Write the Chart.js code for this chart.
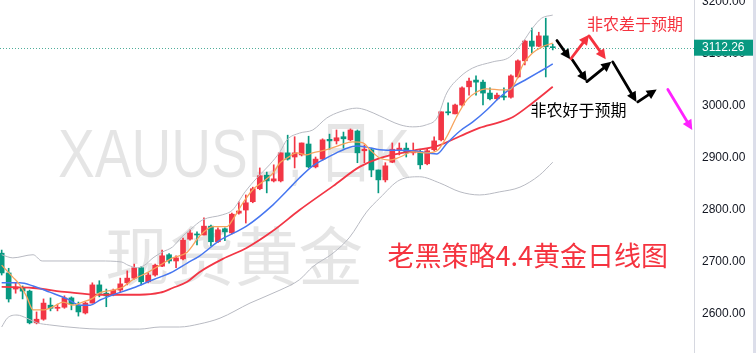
<!DOCTYPE html>
<html>
<head>
<meta charset="utf-8">
<script src="https://cdn.jsdelivr.net/npm/chart.js@4.4.0/dist/chart.umd.min.js"></script>
<style>
html, body { margin: 0; padding: 0; background: #fff; }
</style>
</head>
<body>
<canvas id="c" width="756" height="353"></canvas>
<script>
// XAUUSD daily candles, oldest first
const opens = [2717,2679,2648,2650,2644,2583,2590,2617,2611,2613,
  2631,2617,2602,2621,2656,2640,2637,2646,2660,2669,
  2689,2662,2675,2692,2714,2702,2706,2744,2754,2752,
  2769,2739,2764,2756,2794,2800,2816,2841,2867,2856,
  2856,2910,2902,2906,2927,2883,2898,2936,2933,2941,
  2935,2952,2914,2916,2877,2858,2892,2916,2919,2910,
  2912,2889,2916,2935,2989,2985,3002,3037,3050,3046,
  3025,3014,3019,3017,3056,3087,3125,3115,3135,3114];
const highs = [2723,2688,2660,2654,2646,2604,2629,2631,2619,2635,
  2633,2623,2623,2660,2664,2648,2648,2669,2683,2696,
  2691,2679,2696,2723,2716,2712,2746,2762,2758,2785,
  2771,2766,2766,2794,2816,2829,2844,2881,2873,2887,
  2910,2944,2941,2929,2942,2902,2937,2946,2954,2950,
  2956,2954,2925,2919,2877,2891,2929,2929,2929,2929,
  2917,2917,2941,2989,3006,3004,3037,3054,3058,3050,
  3035,3025,3035,3060,3089,3127,3150,3142,3169,3119];
const lows = [2675,2623,2640,2629,2581,2581,2588,2606,2606,2611,
  2608,2596,2600,2621,2633,2614,2635,2642,2656,2667,
  2656,2660,2673,2691,2698,2689,2704,2742,2733,2752,
  2731,2737,2741,2754,2792,2775,2814,2839,2833,2854,
  2854,2896,2881,2904,2881,2881,2896,2917,2927,2919,
  2933,2891,2891,2864,2833,2854,2891,2906,2902,2906,
  2879,2887,2914,2933,2983,2985,3000,3021,3021,3002,
  3012,3012,3012,3015,3054,3079,3102,3114,3056,3108];
const closes = [2679,2629,2652,2644,2583,2590,2621,2611,2613,2631,
  2619,2604,2621,2656,2640,2635,2646,2658,2669,2689,
  2662,2675,2694,2712,2702,2708,2742,2756,2752,2769,
  2739,2762,2758,2792,2798,2814,2841,2866,2856,2860,
  2910,2898,2910,2929,2883,2898,2935,2933,2939,2937,
  2954,2910,2917,2877,2858,2885,2917,2919,2910,2914,
  2887,2914,2933,2989,2987,3002,3035,3048,3046,3025,
  3014,3021,3017,3058,3087,3125,3115,3135,3114,3112.26];
const lastPrice = 3112.26;

// indicator lines (bar index, price)
const bbUpperAt = [0,1.6,4.5,5.8,14.1,17.2,18.1,19.5,20.5,21.7,23.0,24.5,25.8,27.0,28.8,31.7,33.1,34.9,36.6,38.4,39.9,40.9,42.7,44.6,46.6,48.5,50.9,52.3,54.2,57.1,58.9,60.9,62.4,63.8,65.7,67.5,70.4,72.8,74.7,76.1,77.4,79.0];
const bbUpper = [2714,2708,2714,2702,2702,2700,2694,2689,2694,2708,2719,2729,2748,2762,2781,2791,2800,2835,2862,2887,2912,2935,2948,2954,2977,2989,2996,2992,2981,2964,2960,2964,2977,3025,3056,3073,3085,3094,3123,3150,3169,3175];
const bbLowerAt = [0,0.8,2.2,3.6,5.1,6.9,11.2,14.1,19.8,22.7,25.5,28.4,31.3,35.6,39.9,42.7,44.6,47.5,49.9,52.3,54.2,57.1,59.9,62.8,65.7,68.5,71.4,74.3,77.1,79.0];
const bbLower = [2575,2592,2598,2592,2583,2579,2573,2571,2571,2575,2575,2581,2592,2621,2646,2666,2691,2717,2748,2796,2823,2858,2864,2852,2835,2829,2835,2844,2867,2892];
const ma5At = [0,1.6,2.6,3.6,4.5,5.9,7.4,8.8,10.2,11.6,12.9,14.1,16.0,17.4,18.8,20.8,22.7,24.5,26.6,28.4,30.3,32.3,33.1,34.6,36.0,37.4,38.9,39.9,40.9,42.3,43.7,44.6,46.6,48.5,50.3,51.8,52.8,54.2,55.6,57.1,58.9,60.9,62.4,63.8,65.2,66.7,68.1,69.5,71.8,72.8,73.8,74.7,76.1,77.5,79.0];
const ma5 = [2694,2671,2656,2633,2608,2608,2614,2623,2617,2623,2629,2641,2646,2652,2666,2679,2694,2708,2719,2750,2768,2768,2781,2814,2839,2854,2871,2891,2900,2910,2906,2910,2916,2925,2931,2929,2916,2900,2896,2902,2912,2910,2914,2941,2979,3012,3027,3033,3031,3031,3050,3079,3102,3114,3121];
const ma10At = [0,2.6,4.5,6.9,9.4,11.2,12.7,14.1,16.0,18.8,21.7,24.5,26.6,28.4,31.3,35.1,38.9,40.9,42.7,44.6,46.0,48.0,49.5,50.9,52.3,54.2,58.9,62.4,63.8,65.7,67.5,69.5,71.4,73.3,75.3,77.1,79.0];
const ma10 = [2660,2660,2654,2642,2629,2617,2617,2627,2637,2650,2666,2681,2698,2712,2742,2769,2810,2837,2862,2885,2896,2910,2919,2923,2921,2916,2914,2908,2928,2952,2969,2992,3017,3037,3052,3066,3081];
const ma30At = [0,4.5,9.4,14.1,19.8,22.7,24.5,26.6,28.4,31.7,35.1,38.9,42.7,47.5,51.3,54.2,58.9,62.4,65.7,68.5,71.4,73.3,76.1,79.0];
const ma30 = [2652,2650,2642,2637,2637,2641,2650,2662,2681,2706,2727,2760,2800,2846,2883,2900,2914,2923,2942,2958,2969,2979,3006,3037];

const yTicks = [2600, 2700, 2800, 2900, 3000, 3100, 3200];

// hand drawn scenario arrows: [fromIndex, fromPrice, toIndex, toPrice]
const blackArrows = [[79.6,3126,81.5,3090],[81.8,3089,83.9,3047],[83.9,3047,87.4,3085],[87.6,3085,91.0,3008],[91.2,3008,93.9,3032]];
const redArrows = [[81.6,3091,84.2,3137],[84.2,3135,86.6,3090]];
const pinkArrows = [[95.5,3032,99.0,2954]];

const UP = '#f23645', DOWN = '#089981';
const colors = closes.map((c, i) => c >= opens[i] ? UP : DOWN);
const pts = (xs, ys) => xs.map((x, i) => ({x: x, y: ys[i]}));

function lineSet(label, xs, ys, color, w) {
    return {type: 'line', label: label, data: pts(xs, ys), borderColor: color, borderWidth: w,
        pointRadius: 0, fill: false, cubicInterpolationMode: 'monotone'};
}

function fitText(ctx, txt, left, base, width, font) {
    ctx.save();
    ctx.font = font;
    const w = ctx.measureText(txt).width;
    ctx.translate(left, base);
    ctx.scale(width / w, 1);
    ctx.fillText(txt, 0, 0);
    ctx.restore();
}

function arrow(ctx, x1, y1, x2, y2, color) {
    const ang = Math.atan2(y2 - y1, x2 - x1);
    const hl = 10, hw = 5;
    const bx = x2 - hl * Math.cos(ang), by = y2 - hl * Math.sin(ang);
    ctx.strokeStyle = color;
    ctx.fillStyle = color;
    ctx.lineWidth = 2.8;
    ctx.lineCap = 'round';
    ctx.beginPath();
    ctx.moveTo(x1, y1);
    ctx.lineTo(bx, by);
    ctx.stroke();
    ctx.beginPath();
    ctx.moveTo(x2, y2);
    ctx.lineTo(bx + hw * Math.sin(ang), by - hw * Math.cos(ang));
    ctx.lineTo(bx - hw * Math.sin(ang), by + hw * Math.cos(ang));
    ctx.closePath();
    ctx.fill();
}

const overlay = {
    id: 'overlay',
    beforeDatasetsDraw(chart) {
        const ctx = chart.ctx, a = chart.chartArea, y = chart.scales.y;
        ctx.save();
        ctx.fillStyle = 'rgba(0,0,0,0.1)';
        ctx.textBaseline = 'alphabetic';
        fitText(ctx, 'XAUUSD, 日K', 58, 177, 352, '68px "Liberation Sans", "Noto Sans CJK SC"');
        ctx.textBaseline = 'middle';
        fitText(ctx, '现货黄金', 105, 256, 258, '64px "Noto Sans CJK SC"');
        const py = y.getPixelForValue(lastPrice);
        ctx.strokeStyle = '#4fae9a';
        ctx.lineWidth = 1;
        ctx.setLineDash([1, 2]);
        ctx.beginPath();
        ctx.moveTo(a.left, Math.round(py) + 0.5);
        ctx.lineTo(a.right, Math.round(py) + 0.5);
        ctx.stroke();
        ctx.restore();
    },
    afterDatasetsDraw(chart) {
        const ctx = chart.ctx, x = chart.scales.x, y = chart.scales.y;
        ctx.save();
        const draw = (list, color) => list.forEach(r => arrow(ctx,
            x.getPixelForValue(r[0]), y.getPixelForValue(r[1]),
            x.getPixelForValue(r[2]), y.getPixelForValue(r[3]), color));
        draw(blackArrows, '#000');
        draw(redArrows, '#f5333f');
        draw(pinkArrows, '#ff22ff');
        ctx.textBaseline = 'middle';
        ctx.textAlign = 'left';
        ctx.font = '16px "Noto Sans CJK SC"';
        ctx.fillStyle = '#f5333f';
        ctx.fillText('非农差于预期', x.getPixelForValue(83.9), y.getPixelForValue(3158));
        ctx.fillStyle = '#000';
        ctx.fillText('非农好于预期', x.getPixelForValue(75.8), y.getPixelForValue(2992));
        ctx.font = '27px "Noto Sans CJK SC"';
        ctx.fillStyle = '#f5333f';
        ctx.fillText('老黑策略4.4黄金日线图', x.getPixelForValue(55.3), y.getPixelForValue(2712));
        ctx.restore();
    },
    afterDraw(chart) {
        const ctx = chart.ctx, a = chart.chartArea, y = chart.scales.y;
        const py = y.getPixelForValue(lastPrice);
        ctx.save();
        ctx.fillStyle = DOWN;
        ctx.fillRect(a.right, py - 8, 753 - a.right, 16);
        ctx.fillStyle = '#fff';
        ctx.font = '12px "Liberation Sans"';
        ctx.textBaseline = 'middle';
        ctx.fillText(lastPrice.toFixed(2), a.right + 8, py);
        ctx.fillStyle = '#dcdeea';
        ctx.fillRect(753, 0, 3, chart.height);
        ctx.restore();
    }
};

new Chart(document.getElementById('c'), {
    type: 'bar',
    data: {
        datasets: [
            lineSet('MA5', ma5At, ma5, '#f7a35c', 1.3),
            lineSet('MA10', ma10At, ma10, '#4676f0', 1.5),
            lineSet('MA30', ma30At, ma30, '#f23645', 1.8),
            lineSet('BB upper', bbUpperAt, bbUpper, '#b8bac2', 1),
            lineSet('BB lower', bbLowerAt, bbLower, '#b8bac2', 1),
            {
                label: 'body',
                data: opens.map((o, i) => ({x: i, y: [o, closes[i]]})),
                backgroundColor: colors,
                barThickness: 5,
                minBarLength: 1,
                grouped: false
            },
            {
                label: 'wick',
                data: lows.map((l, i) => ({x: i, y: [l, highs[i]]})),
                backgroundColor: colors,
                barThickness: 1,
                grouped: false
            }
        ]
    },
    options: {
        responsive: false,
        animation: false,
        devicePixelRatio: 1,
        layout: {padding: 0},
        plugins: {legend: {display: false}, tooltip: {enabled: false}},
        scales: {
            x: {type: 'linear', display: false, offset: false, min: -0.24, max: 99.25},
            y: {
                position: 'right',
                min: 2525,
                max: 3204,
                grid: {display: false, drawTicks: false},
                border: {display: true, color: '#d6d8e0'},
                ticks: {
                    color: '#131722',
                    padding: 8,
                    font: {family: '"Liberation Sans"', size: 12},
                    callback: v => v.toFixed(2)
                },
                afterBuildTicks: s => { s.ticks = yTicks.map(v => ({value: v})); },
                afterFit: s => { s.width = 62; s.paddingTop = 0; s.paddingBottom = 0; }
            }
        }
    },
    plugins: [overlay]
});
</script>
</body>
</html>
